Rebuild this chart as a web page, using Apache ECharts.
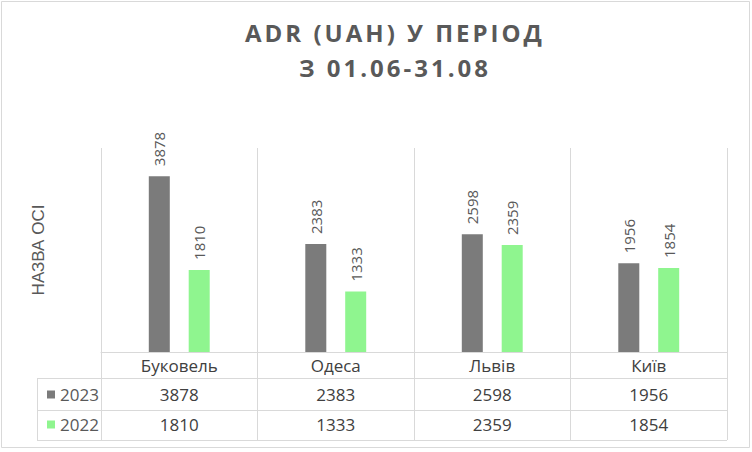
<!DOCTYPE html>
<html>
<head>
<meta charset="utf-8">
<script src="https://cdn.jsdelivr.net/npm/echarts@6/dist/echarts.min.js"></script>
<style>
html,body{margin:0;padding:0;background:#fff;}
#chart{width:752px;height:452px;}
</style>
</head>
<body>
<div id="chart"></div>
<script>
const titleLines = ['ADR (UAH) У ПЕРІОД', 'З 01.06-31.08'];
const categories = ['Буковель', 'Одеса', 'Львів', 'Київ'];
const seriesNames = ['2023', '2022'];
const values2023 = [3878, 2383, 2598, 1956];
const values2022 = [1810, 1333, 2359, 1854];
const axisName = 'НАЗВА ОСІ';

const GRID_L = 101, GRID_R = 727, GRID_T = 148, AXIS_Y = 352;
const ROW1 = 378, ROW2 = 410, ROW3 = 440, TABLE_L = 37;
const lineColor = '#d9d9d9';
const textColor = '#404040';
const labelColor = '#595959';
const colors = ['#7b7b7b', '#8ff58f'];
const tableFont = 'Open Sans';

const chart = echarts.init(document.getElementById('chart'), null, {renderer: 'svg'});

function hLine(x1, x2, y) {
  return {type: 'line', shape: {x1: x1, y1: y + 0.5, x2: x2, y2: y + 0.5}, style: {stroke: lineColor, lineWidth: 1}, silent: true};
}
function vLine(x, y1, y2) {
  return {type: 'line', shape: {x1: x + 0.5, y1: y1, x2: x + 0.5, y2: y2}, style: {stroke: lineColor, lineWidth: 1}, silent: true};
}

const option = {
  animation: false,
  backgroundColor: '#fff',
  graphic: [
    {type: 'rect', shape: {x: 1.5, y: 1.5, width: 748, height: 446}, style: {fill: null, stroke: '#d9d9d9', lineWidth: 1}, silent: true, z: -1},
    {type: 'text', name: 'title1', x: 395, y: 32, style: {text: titleLines[0], fill: labelColor, font: 'bold 24px "Open Sans"', textAlign: 'center', textVerticalAlign: 'middle'}},
    {type: 'text', name: 'title2', x: 395, y: 67, style: {text: titleLines[1], fill: labelColor, font: 'bold 24px "Open Sans"', textAlign: 'center', textVerticalAlign: 'middle'}},
    hLine(TABLE_L, GRID_R, ROW1),
    hLine(TABLE_L, GRID_R, ROW2),
    hLine(TABLE_L, GRID_R, ROW3),
    vLine(TABLE_L, ROW1, ROW3 + 1)
  ],
  legend: {
    data: seriesNames,
    orient: 'vertical',
    left: 42,
    top: 381,
    icon: 'rect',
    itemWidth: 8,
    itemHeight: 8,
    itemGap: 13,
    textStyle: {color: labelColor, fontSize: 17, fontFamily: tableFont, lineHeight: 17},
    selectedMode: false
  },
  grid: {left: GRID_L, right: 752 - GRID_R, top: GRID_T, bottom: 452 - AXIS_Y, containLabel: false},
  xAxis: [
    {
      type: 'category', data: categories, position: 'bottom', offset: 0,
      axisLine: {show: true, lineStyle: {color: lineColor, width: 1}},
      axisTick: {show: true, interval: 0, length: ROW3 - AXIS_Y, lineStyle: {color: lineColor}},
      splitLine: {show: true, interval: 0, lineStyle: {color: lineColor, width: 1}},
      axisLabel: {color: textColor, fontSize: 17, fontFamily: tableFont, margin: 5, interval: 0}
    },
    {
      type: 'category', data: categories, position: 'bottom', offset: 0,
      axisLine: {show: false}, axisTick: {show: false}, splitLine: {show: false},
      axisLabel: {color: textColor, fontSize: 17, fontFamily: tableFont, margin: 34, interval: 0,
        formatter: function (v, i) { return String(values2023[i]); }}
    },
    {
      type: 'category', data: categories, position: 'bottom', offset: 0,
      axisLine: {show: false}, axisTick: {show: false}, splitLine: {show: false},
      axisLabel: {color: textColor, fontSize: 17, fontFamily: tableFont, margin: 64, interval: 0,
        formatter: function (v, i) { return String(values2022[i]); }}
    }
  ],
  yAxis: {
    type: 'value', min: 0, max: 4500,
    name: axisName, nameLocation: 'middle', nameRotate: 90, nameGap: 54,
    nameTextStyle: {color: labelColor, fontSize: 17, fontFamily: 'Liberation Sans'},
    axisLine: {show: false}, axisTick: {show: false}, axisLabel: {show: false}, splitLine: {show: false}
  },
  series: [
    {
      name: seriesNames[0], type: 'bar', data: values2023, barWidth: 21, barGap: '90%',
      itemStyle: {color: colors[0]},
      label: {show: true, position: 'top', rotate: 90, distance: 10, align: 'left', verticalAlign: 'middle',
        color: labelColor, fontSize: 15, fontFamily: tableFont},
      emphasis: {disabled: true}
    },
    {
      name: seriesNames[1], type: 'bar', data: values2022, barWidth: 21, barGap: '90%',
      itemStyle: {color: colors[1]},
      label: {show: true, position: 'top', rotate: 90, distance: 10, align: 'left', verticalAlign: 'middle',
        color: labelColor, fontSize: 15, fontFamily: tableFont},
      emphasis: {disabled: true}
    }
  ]
};
chart.setOption(option);

// widen title letter spacing like the reference
function spaceTitle() {
  document.querySelectorAll('#chart svg text').forEach(function (t) {
    const s = t.textContent;
    if (s === titleLines[0] || s === titleLines[1]) {
      t.style.letterSpacing = '3px';
    }
  });
}
spaceTitle();
chart.on('finished', spaceTitle);
</script>
</body>
</html>
